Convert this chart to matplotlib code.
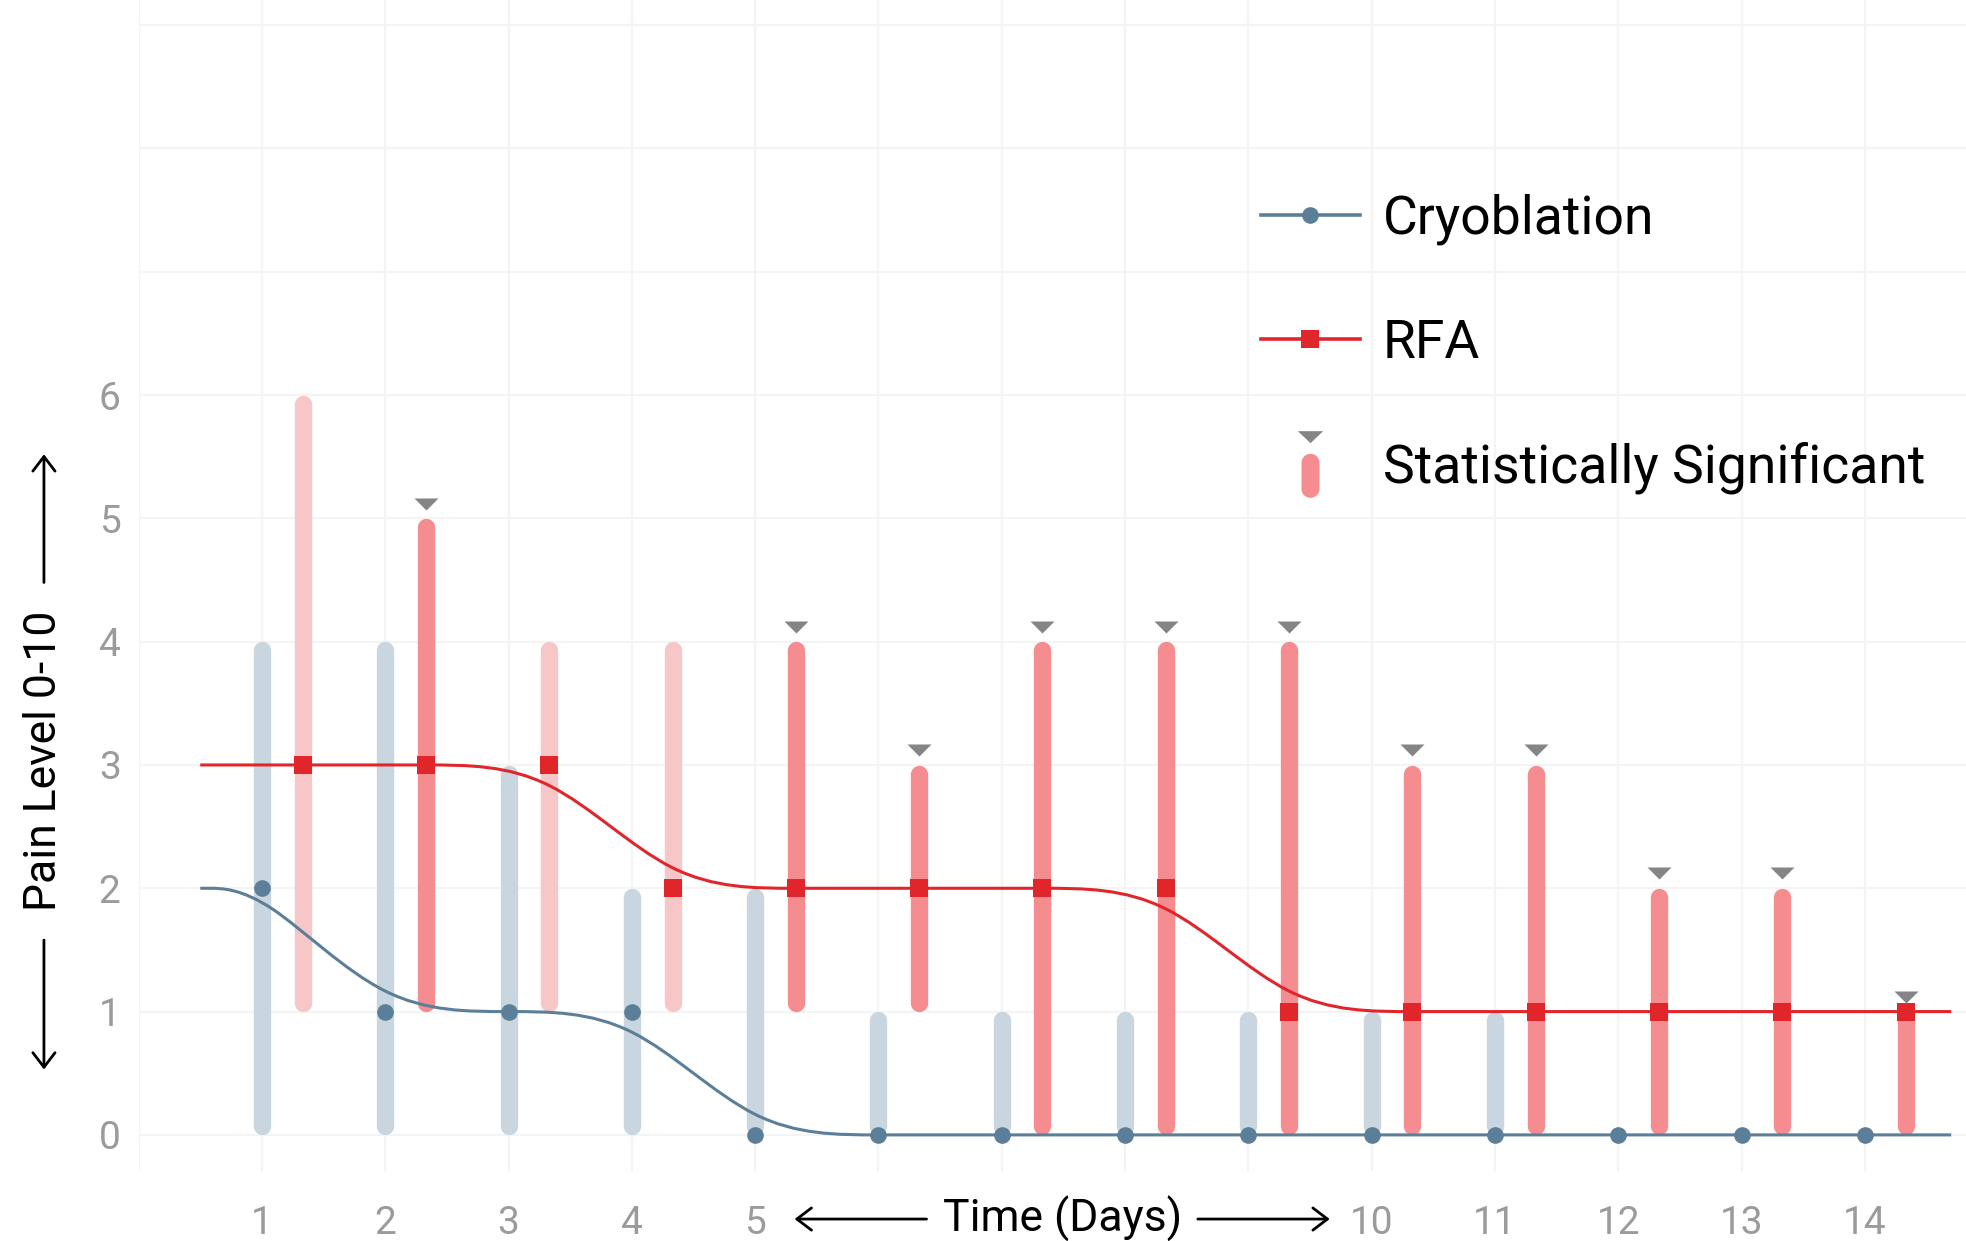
import numpy as np
import matplotlib
matplotlib.use("Agg")
import matplotlib.pyplot as plt
from matplotlib import font_manager
from matplotlib.path import Path
from matplotlib.patches import PathPatch
from matplotlib.lines import Line2D
from matplotlib.legend_handler import HandlerTuple

# data
days = [1, 2, 3, 4, 5, 6, 7, 8, 9, 10, 11, 12, 13, 14]
shown_days = [1, 2, 3, 4, 5, 10, 11, 12, 13, 14]
cryo_lo = [0, 0, 0, 0, 0, 0, 0, 0, 0, 0, 0, 0, 0, 0]
cryo_hi = [4, 4, 3, 2, 2, 1, 1, 1, 1, 1, 1, 0, 0, 0]
cryo_med = [2, 1, 1, 1, 0, 0, 0, 0, 0, 0, 0, 0, 0, 0]
rfa_lo = [1, 1, 1, 1, 1, 1, 0, 0, 0, 0, 0, 0, 0, 0]
rfa_hi = [6, 5, 4, 4, 4, 3, 4, 4, 4, 3, 3, 2, 2, 1]
rfa_med = [3, 3, 3, 2, 2, 2, 2, 2, 1, 1, 1, 1, 1, 1]
rfa_sig = [False, True, False, False, True, True, True, True, True, True, True, True, True, True]
line_start, line_end = 0.5, 14.7
y_ticks = [0, 1, 2, 3, 4, 5, 6]
y_grid = [0, 1, 2, 3, 4, 5, 6, 7, 8, 9]

CRYO = "#5b7f99"
CRYO_BAR = "#c9d6df"
RED = "#e1262b"
RFA_SIG = "#f58c8f"
RFA_LIGHT = "#f7c7c8"
TRI = "#858585"
GRID = "#f4f4f4"
TICK = "#9b9b9b"

names = {f.name for f in font_manager.fontManager.ttflist}
narrow = "Liberation Sans Narrow" if "Liberation Sans Narrow" in names else "Roboto"
plt.rcParams["font.family"] = ["Roboto", "DejaVu Sans"]

W, H, DPI = 1966, 1241, 100
fig = plt.figure(figsize=(W / DPI, H / DPI), dpi=DPI)
ax = fig.add_axes([0.0705, 0.0552, 0.9295, 0.9448])
xlim = (0, 14.82)
ylim = (-0.305, 9.204)
ax.set_xlim(*xlim)
ax.set_ylim(*ylim)
for s in ax.spines.values():
    s.set_visible(False)

# grid
ax.set_xticks(range(0, 15))
ax.set_yticks(y_grid)
ax.grid(True, color=GRID, lw=1.5, zorder=0)
ax.set_axisbelow(True)
ax.set_xticklabels([str(d) if d in shown_days else "" for d in range(0, 15)])
ax.set_yticklabels([str(v) if v in y_ticks else "" for v in y_grid])
ax.tick_params(axis="x", length=0, pad=23.5, labelsize=28, labelcolor=TICK)
ax.tick_params(axis="y", length=0, pad=13, labelsize=28, labelcolor=TICK)

# half bar width in data units so the round caps end at the value
bar_lw = 12.5
px_per_unit = H * 0.9448 / (ylim[1] - ylim[0])
r = bar_lw / 2 * DPI / 72 / px_per_unit

days_a = np.array(days, float)
rfa_x = days_a + 0.33
clo, chi = np.array(cryo_lo, float), np.array(cryo_hi, float)
rlo, rhi = np.array(rfa_lo, float), np.array(rfa_hi, float)
sig = np.array(rfa_sig)

m = chi > clo
ax.vlines(days_a[m], clo[m] + r, chi[m] - r, colors=CRYO_BAR, lw=bar_lw,
          capstyle="round", zorder=2)
ax.vlines(rfa_x[sig], rlo[sig] + r, rhi[sig] - r, colors=RFA_SIG, lw=bar_lw,
          capstyle="round", zorder=2)
ax.vlines(rfa_x[~sig], rlo[~sig] + r, rhi[~sig] - r, colors=RFA_LIGHT, lw=bar_lw,
          capstyle="round", zorder=2)


def basis_path(xs, ys):
    # same smoothing as d3.curveBasis
    verts = [(xs[0], ys[0]), ((5 * xs[0] + xs[1]) / 6, (5 * ys[0] + ys[1]) / 6)]
    codes = [Path.MOVETO, Path.LINETO]

    def seg(x0, y0, x1, y1, x, y):
        return [((2 * x0 + x1) / 3, (2 * y0 + y1) / 3),
                ((x0 + 2 * x1) / 3, (y0 + 2 * y1) / 3),
                ((x0 + 4 * x1 + x) / 6, (y0 + 4 * y1 + y) / 6)]

    for i in range(2, len(xs)):
        verts += seg(xs[i - 2], ys[i - 2], xs[i - 1], ys[i - 1], xs[i], ys[i])
        codes += [Path.CURVE4] * 3
    verts += seg(xs[-2], ys[-2], xs[-1], ys[-1], xs[-1], ys[-1])
    codes += [Path.CURVE4] * 3
    verts.append((xs[-1], ys[-1]))
    codes.append(Path.LINETO)
    return Path(verts, codes)


cx = [line_start] + list(days_a) + [line_end]
cy = [cryo_med[0]] + cryo_med + [cryo_med[-1]]
ax.add_patch(PathPatch(basis_path(cx, cy), fill=False, edgecolor=CRYO, lw=2.2,
                       zorder=3, capstyle="butt"))
rx = [line_start] + list(rfa_x) + [line_end]
ry = [rfa_med[0]] + rfa_med + [rfa_med[-1]]
ax.add_patch(PathPatch(basis_path(rx, ry), fill=False, edgecolor=RED, lw=2.2,
                       zorder=3, capstyle="butt"))

ax.plot(days_a, cryo_med, "o", color=CRYO, ms=12, mew=0, zorder=4)
ax.plot(rfa_x, rfa_med, "s", color=RED, ms=12.7, mew=0, zorder=4)

# significance markers (flat downward triangle)
tri_path = Path([(-1, 0.5), (1, 0.5), (0, -0.5), (-1, 0.5)])
ax.plot(rfa_x[sig], rhi[sig] + 0.12, ls="none", marker=tri_path, ms=17.3,
        color=TRI, mew=0, zorder=4)

# axis labels with arrows
arrow = dict(arrowstyle="->,head_length=1.05,head_width=0.8", lw=2, color="black",
             shrinkA=0, shrinkB=0)
xb = ax.get_xaxis_transform()
ax.text(7.49, -0.0397, "Time (Days)", transform=xb, ha="center", va="center",
        fontsize=32, family=narrow, clip_on=False)
ax.annotate("", xy=(5.32, -0.0397), xytext=(6.39, -0.0397), xycoords=xb,
            textcoords=xb, arrowprops=arrow, annotation_clip=False)
ax.annotate("", xy=(9.66, -0.0397), xytext=(8.59, -0.0397), xycoords=xb,
            textcoords=xb, arrowprops=arrow, annotation_clip=False)

yb = ax.get_yaxis_transform()
ax.text(-0.0518, 3.03, "Pain Level 0-10", transform=yb, ha="center", va="center",
        rotation=90, fontsize=32, family=narrow, clip_on=False)
ax.annotate("", xy=(-0.0518, 5.52), xytext=(-0.0518, 4.48), xycoords=yb,
            textcoords=yb, arrowprops=arrow, annotation_clip=False)
ax.annotate("", xy=(-0.0518, 0.53), xytext=(-0.0518, 1.58), xycoords=yb,
            textcoords=yb, arrowprops=arrow, annotation_clip=False)

# legend
t = np.linspace(0, np.pi, 20)
pr, ptop, pbot = 0.27, 0.32, -1.0
pill_verts = ([(pr * np.cos(a), ptop - pr + pr * np.sin(a)) for a in t] +
              [(-pr * np.cos(a), pbot + pr - pr * np.sin(a)) for a in t])
pill_verts.append(pill_verts[0])
pill_path = Path(pill_verts)
tri_leg = Path([(-0.38, 1.0), (0.38, 1.0), (0, 0.64), (-0.38, 1.0), (0, -1.0)],
               [Path.MOVETO, Path.LINETO, Path.LINETO, Path.CLOSEPOLY, Path.MOVETO])
h_cryo = Line2D([], [], color=CRYO, lw=2.6, marker="o", ms=12, mew=0)
h_rfa = Line2D([], [], color=RED, lw=2.6, marker="s", ms=12.7, mew=0)
h_pill = Line2D([], [], ls="none", marker=pill_path, ms=48, color=RFA_SIG, mew=0)
h_tri = Line2D([], [], ls="none", marker=tri_leg, ms=48, color=TRI, mew=0)
ax.legend([h_cryo, h_rfa, (h_pill, h_tri)],
          ["Cryoblation", "RFA", "Statistically Significant"],
          handler_map={tuple: HandlerTuple(ndivide=1)},
          loc="upper left", bbox_to_anchor=(0.614, 0.835), frameon=False,
          borderpad=0, borderaxespad=0, handlelength=1.86, handletextpad=0.42,
          labelspacing=1.36, prop={"family": narrow, "size": 38.5})

fig.savefig("out.png", dpi=DPI, facecolor="white")
